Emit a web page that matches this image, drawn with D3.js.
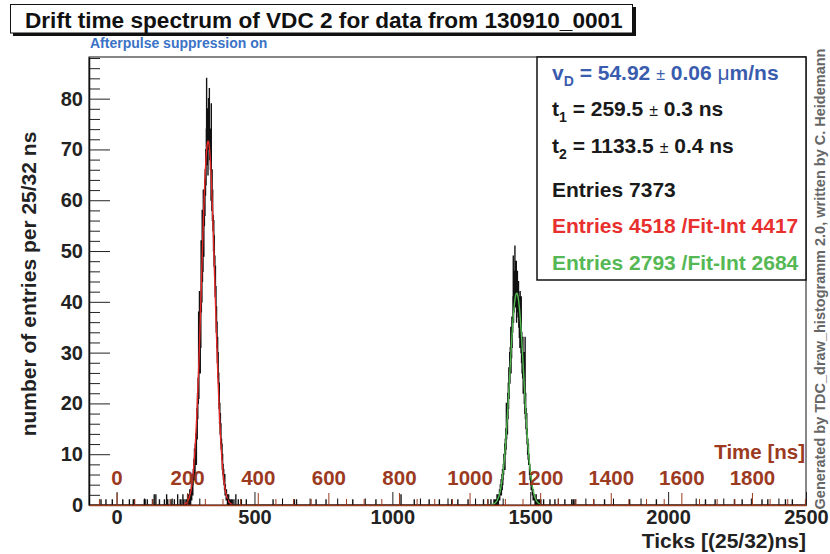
<!DOCTYPE html>
<html>
<head>
<meta charset="utf-8">
<script src="https://cdn.jsdelivr.net/npm/d3@7"></script>
<style>
  body { margin: 0; background: #fff; }
  svg text { font-family: "Liberation Sans", Arial, Helvetica, sans-serif; font-weight: bold; }
</style>
</head>
<body>
<svg id="chart" width="830" height="554"></svg>
<script>
// ---- data ----
const xTicks = [0, 500, 1000, 1500, 2000, 2500];
const xMinor = [-100, 100, 200, 300, 400, 600, 700, 800, 900, 1100, 1200, 1300, 1400,
                1600, 1700, 1800, 1900, 2100, 2200, 2300, 2400];
const yTicks = [0, 10, 20, 30, 40, 50, 60, 70, 80];
const yMinor = [2, 4, 6, 8, 12, 14, 16, 18, 22, 24, 26, 28, 32, 34, 36, 38, 42, 44, 46, 48,
                52, 54, 56, 58, 62, 64, 66, 68, 72, 74, 76, 78, 82, 84, 86, 88];
const timeTicks = [0, 200, 400, 600, 800, 1000, 1200, 1400, 1600, 1800];
const timeMinor = [-50, 50, 100, 150, 250, 300, 350, 450, 500, 550, 650, 700, 750, 850, 900, 950,
                   1050, 1100, 1150, 1250, 1300, 1350, 1450, 1500, 1550, 1650, 1700, 1750,
                   1850, 1900, 1950];

// first peak, one value per tick starting at tick 250
const peak1Start = 250;
const peak1Counts = [
  0, 1, 0, 0, 0, 1, 0, 2, 1, 0,
  1, 0, 2, 1, 0, 3, 1, 2, 0, 3,
  2, 4, 1, 5, 3, 6, 2, 4, 7, 5,
  9, 6, 11, 7, 5, 12, 9, 14, 10, 8,
  15, 19, 13, 22, 17, 25, 20, 38, 21, 27,
  42, 29, 34, 26, 37, 31, 52, 38, 45, 40,
  58, 44, 50, 46, 62, 53, 49, 59, 55, 64,
  57, 66, 61, 70, 63, 74, 84, 67, 75, 69,
  78, 65, 73, 80, 70, 76, 82, 68, 74, 71,
  66, 73, 60, 79, 64, 58, 66, 56, 62, 54,
  57, 50, 56, 47, 53, 45, 49, 41, 47, 40,
  43, 34, 39, 31, 36, 28, 33, 25, 30, 24,
  26, 19, 24, 16, 20, 14, 18, 12, 16, 11,
  13, 9, 12, 7, 10, 6, 8, 5, 7, 4,
  5, 3, 6, 2, 4, 2, 3, 1, 3, 2,
  1, 2, 0, 1, 1, 0, 2, 0, 1, 0,
  0, 1, 0, 0, 1, 0, 0, 0, 0, 1
];
// second peak, one value per tick starting at tick 1366
const peak2Start = 1366;
const peak2Counts = [
  0, 0, 1, 0, 0, 1, 0, 0, 1, 0,
  1, 0, 0, 2, 1, 0, 1, 2, 0, 1,
  2, 1, 3, 1, 2, 4, 2, 3, 5, 2,
  4, 6, 3, 7, 4, 5, 8, 6, 10, 7,
  9, 12, 7, 13, 10, 15, 11, 20, 13, 16,
  19, 14, 22, 17, 24, 19, 27, 21, 25, 30,
  24, 31, 27, 35, 26, 33, 29, 37, 31, 36,
  34, 41, 49, 36, 44, 38, 46, 40, 51, 43,
  39, 47, 41, 48, 36, 44, 40, 46, 38, 43,
  37, 44, 35, 41, 33, 39, 31, 42, 34, 36,
  30, 41, 28, 34, 26, 31, 25, 33, 22, 28,
  24, 30, 20, 26, 18, 33, 17, 22, 15, 19,
  14, 18, 12, 15, 10, 13, 9, 12, 8, 10,
  9, 6, 8, 5, 7, 4, 6, 3, 5, 3,
  4, 2, 3, 2, 1, 3, 1, 2, 1, 2,
  1, 0, 1, 1, 0, 2, 0, 1, 0, 0,
  1, 0, 0, 1, 0, 0, 0, 1, 0, 0,
  0, 0, 1, 0, 0, 0, 0, 0, 0, 0
];
// isolated background hits: [tick, count]
const noiseHits = [
  [-57, 1], [-39, 1], [-16, 1], [22, 1], [46, 1], [60, 1], [64, 1], [100, 1], [103, 1],
  [111, 1], [130, 1], [136, 2], [142, 2], [155, 1], [173, 1], [181, 2], [185, 1], [197, 1],
  [209, 1], [221, 2], [230, 1], [233, 1], [240, 2], [244, 1], [425, 1], [432, 2], [441, 1],
  [452, 1], [470, 1], [567, 1], [644, 1], [652, 1], [723, 1], [759, 1], [856, 1], [940, 1],
  [1031, 2], [1079, 1], [1133, 1], [1170, 1], [1215, 1], [1237, 1], [1274, 1], [1330, 1],
  [1346, 1], [1357, 1], [1548, 1], [1571, 1], [1589, 1], [1625, 1], [1650, 1], [1656, 1],
  [1662, 1], [1730, 1], [1769, 1], [1860, 1], [1957, 1], [2135, 1], [2170, 1], [2240, 1],
  [2268, 1], [2340, 1], [2361, 1], [2425, 1], [2450, 1]
];

// gaussian fits: [amplitude, mean, sigma], range in ticks
const fit1 = [71.6, 332, 24.6];
const fit1Range = [244, 420];
const fit2 = [41.7, 1451, 25.7];
const fit2Range = [1357, 1535];

const statsLines = [
  "Entries 7373",
  "Entries 4518 /Fit-Int 4417",
  "Entries 2793 /Fit-Int 2684"
];

// ---- layout ----
const frame = { left: 89, right: 806, top: 57, bottom: 505 };
const brown = "#9b3a1f";
const font = '"Liberation Sans", Arial, Helvetica, sans-serif';
const intFmt = d3.format("d");

const svg = d3.select("#chart");

const x = d3.scaleLinear().domain([-100, 2500]).range([frame.left, frame.right]);
const y = d3.scaleLinear().domain([0, 88.2]).range([frame.bottom, frame.top]);
const xTime = d3.scaleLinear().domain([-100 * 25 / 32, 2500 * 25 / 32]).range([frame.left, frame.right]);

// histogram bins
const counts = new Map();
peak1Counts.forEach((c, i) => counts.set(peak1Start + i, c));
peak2Counts.forEach((c, i) => counts.set(peak2Start + i, c));
noiseHits.forEach(([t, c]) => counts.set(t, c));
const bins = d3.range(-100, 2500).map(t => ({ t, v: counts.get(t) || 0 }));
bins.push({ t: 2500, v: bins[bins.length - 1].v });

svg.append("clipPath").attr("id", "clip")
  .append("rect")
  .attr("x", frame.left).attr("y", frame.top)
  .attr("width", frame.right - frame.left).attr("height", frame.bottom - frame.top);

const histLine = d3.line()
  .x(d => x(d.t))
  .y(d => y(d.v))
  .curve(d3.curveStepAfter);

svg.append("path")
  .datum(bins)
  .attr("clip-path", "url(#clip)")
  .attr("d", histLine)
  .attr("fill", "none")
  .attr("stroke", "#111")
  .attr("stroke-width", 1.1);

// fits
function gaussPoints(p, range) {
  return d3.range(range[0], range[1] + 0.5, 0.5).map(t =>
    [t, p[0] * Math.exp(-0.5 * Math.pow((t - p[1]) / p[2], 2))]);
}
const fitLine = d3.line().x(d => x(d[0])).y(d => y(d[1]));
svg.append("path")
  .attr("d", fitLine(gaussPoints(fit1, fit1Range)))
  .attr("fill", "none").attr("stroke", "#e82a2a").attr("stroke-width", 1.4);
svg.append("path")
  .attr("d", fitLine(gaussPoints(fit2, fit2Range)))
  .attr("fill", "none").attr("stroke", "#4fb94f").attr("stroke-width", 1.4);

// frame
svg.append("rect")
  .attr("x", frame.left).attr("y", frame.top)
  .attr("width", frame.right - frame.left).attr("height", frame.bottom - frame.top)
  .attr("fill", "none").attr("stroke", "#111").attr("stroke-width", 1);

// y axis
const yAxis = svg.append("g").attr("transform", `translate(${frame.left},0)`);
yAxis.call(d3.axisLeft(y).tickValues(yMinor).tickSize(-11).tickSizeOuter(0).tickFormat(""));
yAxis.call(g => g.select(".domain").remove());
const yAxisMajor = svg.append("g").attr("transform", `translate(${frame.left},0)`)
  .call(d3.axisLeft(y).tickValues(yTicks).tickSize(-21).tickSizeOuter(0).tickPadding(6).tickFormat(intFmt));
yAxisMajor.selectAll("text")
  .attr("font-size", 20).attr("font-family", font).attr("font-weight", "bold").attr("fill", "#222");
svg.selectAll(".tick line").attr("stroke", "#222");
yAxisMajor.select(".domain").attr("stroke", "#111").attr("stroke-width", 1.5);

// x axis (ticks)
const xAxisMinor = svg.append("g").attr("transform", `translate(0,${frame.bottom})`)
  .call(d3.axisBottom(x).tickValues(xMinor).tickSize(-6.5).tickSizeOuter(0).tickFormat(""));
xAxisMinor.select(".domain").remove();
const xAxis = svg.append("g").attr("transform", `translate(0,${frame.bottom})`)
  .call(d3.axisBottom(x).tickValues(xTicks).tickSize(-13).tickSizeOuter(0).tickPadding(5).tickFormat(intFmt));
xAxis.selectAll("text")
  .attr("font-size", 20).attr("font-family", font).attr("font-weight", "bold").attr("fill", "#222");
xAxis.selectAll(".tick line").attr("stroke", "#222");
xAxis.select(".domain").attr("stroke", "#111");

// time axis (brown, on top of the bottom axis)
const tMinor = svg.append("g").attr("transform", `translate(0,${frame.bottom})`)
  .call(d3.axisTop(xTime).tickValues(timeMinor).tickSize(6).tickSizeOuter(0).tickFormat(""));
tMinor.select(".domain").remove();
tMinor.selectAll("line").attr("stroke", brown);
const tAxis = svg.append("g").attr("transform", `translate(0,${frame.bottom})`)
  .call(d3.axisTop(xTime).tickValues(timeTicks).tickSize(12).tickSizeOuter(0).tickPadding(8).tickFormat(intFmt));
tAxis.select(".domain").attr("stroke", brown).attr("stroke-width", 1.6);
tAxis.selectAll("line").attr("stroke", brown);
tAxis.selectAll("text")
  .attr("font-size", 20.5).attr("font-family", font).attr("font-weight", "bold").attr("fill", brown);

svg.append("text")
  .attr("x", 805).attr("y", 459).attr("text-anchor", "end")
  .attr("font-size", 20.5).attr("fill", brown)
  .text("Time [ns]");

// axis titles
svg.append("text")
  .attr("x", 806).attr("y", 548).attr("text-anchor", "end")
  .attr("font-size", 21).attr("fill", "#222")
  .text("Ticks [(25/32)ns]");
svg.append("text")
  .attr("transform", "translate(36,284) rotate(-90)")
  .attr("text-anchor", "middle")
  .attr("font-size", 21).attr("fill", "#222")
  .text("number of entries per 25/32 ns");

// stats box
svg.append("rect")
  .attr("x", 537).attr("y", 57).attr("width", 269).attr("height", 223)
  .attr("fill", "#fff").attr("stroke", "#111").attr("stroke-width", 1.5);

function paramLine(yPos, color, sym, sub, val, err, unitPre, unit) {
  const t = svg.append("text").attr("x", 552).attr("y", yPos).attr("fill", color).attr("font-size", 21);
  t.append("tspan").text(sym);
  t.append("tspan").attr("font-size", 14).attr("dy", 6).text(sub);
  t.append("tspan").attr("dy", -6).text(" = " + val + " ");
  t.append("tspan").attr("font-size", 16).attr("font-weight", "normal").text("\u00b1");
  t.append("tspan").text(" " + err + " ");
  if (unitPre) t.append("tspan").attr("font-weight", "normal").text(unitPre);
  t.append("tspan").text(unit);
}
paramLine(80, "#3a5cae", "v", "D", "54.92", "0.06", "\u03bc", "m/ns");
paramLine(116, "#1a1a1a", "t", "1", "259.5", "0.3", "", "ns");
paramLine(153, "#1a1a1a", "t", "2", "1133.5", "0.4", "", "ns");

const statsColors = ["#1a1a1a", "#e8302e", "#55b855"];
const statsY = [197, 233, 270];
statsLines.forEach((s, i) => {
  svg.append("text")
    .attr("x", 552).attr("y", statsY[i]).attr("font-size", 21)
    .attr("fill", statsColors[i]).text(s);
});

// title box with shadow
svg.append("rect").attr("x", 13).attr("y", 7).attr("width", 623).attr("height", 29).attr("fill", "#111");
svg.append("rect").attr("x", 10.5).attr("y", 4.5).attr("width", 622).attr("height", 28.5)
  .attr("fill", "#fff").attr("stroke", "#111").attr("stroke-width", 1);
svg.append("text")
  .attr("x", 25).attr("y", 28).attr("font-size", 22.6).attr("fill", "#111")
  .text("Drift time spectrum of VDC 2 for data from 130910_0001");

svg.append("text")
  .attr("x", 90).attr("y", 48).attr("font-size", 14).attr("fill", "#3a72c6")
  .text("Afterpulse suppression on");

// side credit
svg.append("text")
  .attr("transform", "translate(825,279) rotate(-90)")
  .attr("text-anchor", "middle")
  .attr("font-size", 14.5).attr("font-weight", "normal").attr("fill", "#666")
  .text("Generated by TDC_draw_histogramm 2.0, written by C. Heidemann");
</script>
</body>
</html>
